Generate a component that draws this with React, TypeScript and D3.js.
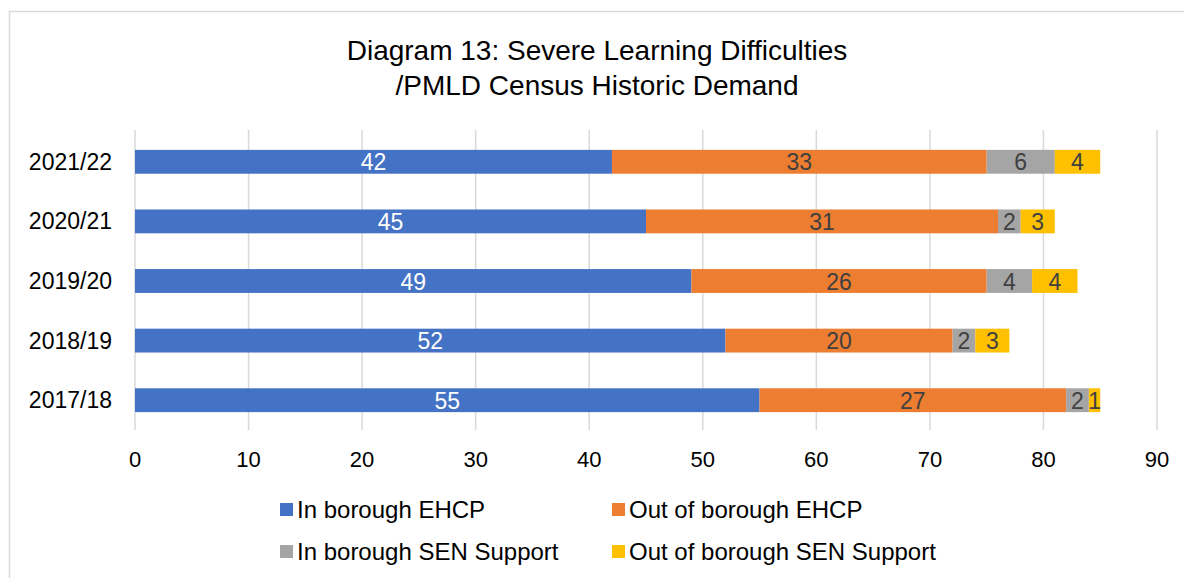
import React, { useEffect, useRef } from "react";
import * as d3 from "d3";

const years = ["2021/22", "2020/21", "2019/20", "2018/19", "2017/18"];
const seriesNames = ["In borough EHCP", "Out of borough EHCP", "In borough SEN Support", "Out of borough SEN Support"];
const inBoroughEHCP = [42, 45, 49, 52, 55];
const outBoroughEHCP = [33, 31, 26, 20, 27];
const inBoroughSEN = [6, 2, 4, 2, 2];
const outBoroughSEN = [4, 3, 4, 3, 1];
const colors = ["#4472C4", "#ED7D31", "#A5A5A5", "#FFC000"];
const labelColors = ["#ffffff", "#404040", "#404040", "#404040"];
const xTicks = [0, 10, 20, 30, 40, 50, 60, 70, 80, 90];

export default function App() {
  const ref = useRef<SVGSVGElement>(null);
  useEffect(() => {
    const svg = d3.select(ref.current);
    svg.selectAll("*").remove();
    const W = 1184, H = 578;
    const font = "Liberation Sans, Arial, sans-serif";
    svg.append("rect").attr("x", 0).attr("y", 0).attr("width", W).attr("height", H).attr("fill", "#fff");
    svg.append("rect").attr("x", 9.5).attr("y", 11.5).attr("width", W + 10).attr("height", H + 10)
      .attr("fill", "none").attr("stroke", "#d9d9d9").attr("stroke-width", 1.5);

    const x = d3.scaleLinear().domain([0, 90]).range([135, 1157]);
    const y = d3.scaleBand().domain(years).range([132, 430]).paddingInner(0.6).paddingOuter(0.3);

    // title
    const title = svg.append("text").attr("text-anchor", "middle").attr("font-family", font)
      .attr("font-size", 28).attr("fill", "#000");
    title.append("tspan").attr("x", 597).attr("y", 60).text("Diagram 13: Severe Learning Difficulties");
    title.append("tspan").attr("x", 597).attr("y", 95).text("/PMLD Census Historic Demand");

    // gridlines
    svg.append("g").selectAll("line").data(xTicks).join("line")
      .attr("x1", d => x(d)).attr("x2", d => x(d)).attr("y1", 130).attr("y2", 430)
      .attr("stroke", "#d9d9d9").attr("stroke-width", 1.5);

    // tick labels
    svg.append("g").selectAll("text").data(xTicks).join("text")
      .attr("x", d => x(d)).attr("y", 467).attr("text-anchor", "middle")
      .attr("font-family", font).attr("font-size", 22).attr("fill", "#000").text(d => d);

    svg.append("g").selectAll("text").data(years).join("text")
      .attr("x", 112).attr("y", d => y(d)! + y.bandwidth() / 2 + 8).attr("text-anchor", "end")
      .attr("font-family", font).attr("font-size", 23).attr("fill", "#000").text(d => d);

    const rows = years.map((yr, i) => ({
      year: yr,
      vals: [inBoroughEHCP[i], outBoroughEHCP[i], inBoroughSEN[i], outBoroughSEN[i]],
    }));
    const stack = d3.stack<any>().keys([0, 1, 2, 3] as any).value((d: any, k: any) => d.vals[k]);
    const stacked = stack(rows as any);

    stacked.forEach((s, si) => {
      const g = svg.append("g");
      g.selectAll("rect").data(s).join("rect")
        .attr("x", d => x(d[0])).attr("width", d => x(d[1]) - x(d[0]))
        .attr("y", (d: any) => y(d.data.year)!).attr("height", y.bandwidth())
        .attr("fill", colors[si]);
      g.selectAll("text").data(s).join("text")
        .attr("x", d => (x(d[0]) + x(d[1])) / 2)
        .attr("y", (d: any) => y(d.data.year)! + y.bandwidth() / 2 + 8.5)
        .attr("text-anchor", "middle").attr("font-family", font).attr("font-size", 23)
        .attr("fill", labelColors[si]).text(d => d[1] - d[0]);
    });

    // legend
    const legendPos = [[280, 510], [612, 510], [280, 552], [612, 552]];
    seriesNames.forEach((n, i) => {
      const [lx, ly] = legendPos[i];
      svg.append("rect").attr("x", lx).attr("y", ly - 7).attr("width", 13).attr("height", 13).attr("fill", colors[i]);
      svg.append("text").attr("x", lx + 17).attr("y", ly + 8).attr("font-family", font).attr("font-size", 24)
        .attr("fill", "#000").text(n);
    });
  }, []);
  return <svg ref={ref} width={1184} height={578} style={{ position: "absolute", left: 0, top: 0 }} />;
}
